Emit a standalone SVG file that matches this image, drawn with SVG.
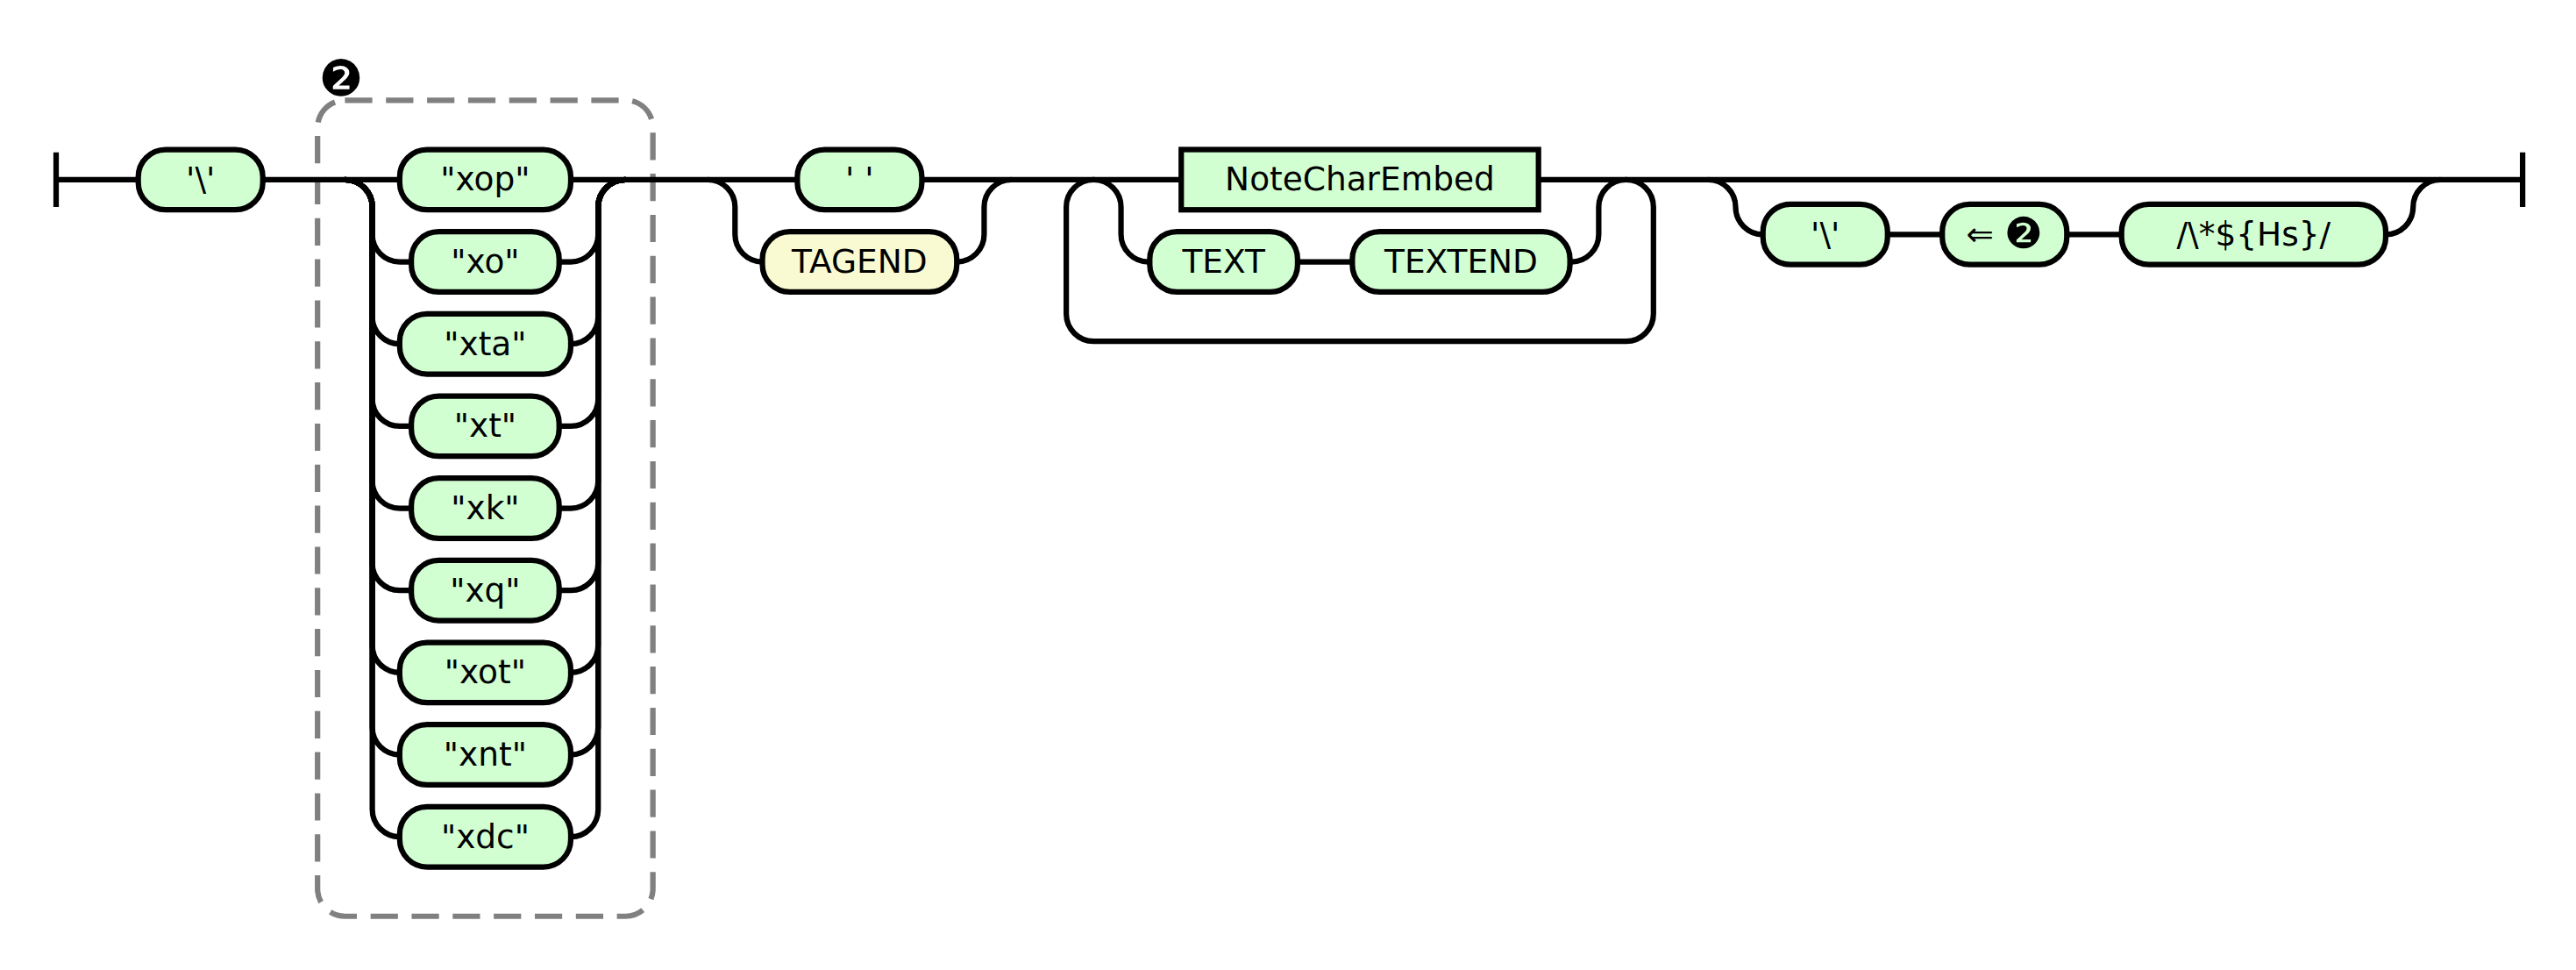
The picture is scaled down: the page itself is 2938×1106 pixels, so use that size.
<svg xmlns="http://www.w3.org/2000/svg" width="2938" height="1106" viewBox="0 0 2938 1106">
<style>
.c path{fill:none;stroke:#000;stroke-width:2}
.t rect{fill:#D2FFD2;stroke:#000;stroke-width:2}
.t.y rect{fill:#FAFAD2}
.t text,.n text{font-family:"DejaVu Sans","Liberation Sans",sans-serif;font-size:12px;text-anchor:middle;fill:#000;white-space:pre}
.n rect{fill:#D2FFD2;stroke:#000;stroke-width:2}
.gbox{fill:none;stroke:#808080;stroke-width:2;stroke-dasharray:10 5}
.lbl{font-family:"DejaVu Sans",sans-serif;font-size:18.2px;text-anchor:middle;fill:#000}
.big{font-size:15.8px}
</style>
<rect width="2938" height="1106" fill="#fff"/>
<g transform="translate(0 0.37) scale(3.12221) translate(0.5 0.5)">
<g id="group2">
<rect class="gbox" x="115.5" y="36" width="122.5" height="298" rx="10" ry="10"/>
<text class="lbl" x="124.1" y="34.4">❷</text>
</g>
<g class="c" id="connectors">
<path d="M20 55v20M20 65H50"/>
<path d="M95.5 65H145.5"/>
<path d="M208 65H290.75"/>
<path d="M336.25 65H431"/>
<path d="M561.5 65H921M921 55v20"/>
<path d="M125.5 65a10 10 0 0 1 10 10V85a10 10 0 0 0 10 10h4.25M203.75 95h4.25a10 10 0 0 0 10 -10V75a10 10 0 0 1 10 -10"/>
<path d="M125.5 65a10 10 0 0 1 10 10V115a10 10 0 0 0 10 10M208 125a10 10 0 0 0 10 -10V75a10 10 0 0 1 10 -10"/>
<path d="M125.5 65a10 10 0 0 1 10 10V145a10 10 0 0 0 10 10h4.25M203.75 155h4.25a10 10 0 0 0 10 -10V75a10 10 0 0 1 10 -10"/>
<path d="M125.5 65a10 10 0 0 1 10 10V175a10 10 0 0 0 10 10h4.25M203.75 185h4.25a10 10 0 0 0 10 -10V75a10 10 0 0 1 10 -10"/>
<path d="M125.5 65a10 10 0 0 1 10 10V205a10 10 0 0 0 10 10h4.25M203.75 215h4.25a10 10 0 0 0 10 -10V75a10 10 0 0 1 10 -10"/>
<path d="M125.5 65a10 10 0 0 1 10 10V235a10 10 0 0 0 10 10M208 245a10 10 0 0 0 10 -10V75a10 10 0 0 1 10 -10"/>
<path d="M125.5 65a10 10 0 0 1 10 10V265a10 10 0 0 0 10 10M208 275a10 10 0 0 0 10 -10V75a10 10 0 0 1 10 -10"/>
<path d="M125.5 65a10 10 0 0 1 10 10V295a10 10 0 0 0 10 10M208 305a10 10 0 0 0 10 -10V75a10 10 0 0 1 10 -10"/>
<path d="M258 65a10 10 0 0 1 10 10v10a10 10 0 0 0 10 10M349 95a10 10 0 0 0 10 -10v-10a10 10 0 0 1 10 -10"/>
<path d="M399 65a10 10 0 0 1 10 10v10a10 10 0 0 0 10 10h0.5M473.5 95h20M573 95h0.5a10 10 0 0 0 10 -10v-10a10 10 0 0 1 10 -10"/>
<path d="M399 65a10 10 0 0 0 -10 10v39a10 10 0 0 0 10 10H593.5a10 10 0 0 0 10 -10v-39a10 10 0 0 0 -10 -10"/>
<path d="M623.5 65a10 10 0 0 1 10 10a10 10 0 0 0 10 10M689 85h20M754.5 85h20M871 85a10 10 0 0 0 10 -10a10 10 0 0 1 10 -10"/>
</g>
<g class="t" id="t_bs1"><rect x="50" y="54" width="45.5" height="22" rx="10" ry="10"/><text x="72.75" y="69">'\'</text></g>
<g class="t" id="t_xop"><rect x="145.5" y="54" width="62.5" height="22" rx="10" ry="10"/><text x="176.75" y="69">"xop"</text></g>
<g class="t" id="t_xo"><rect x="149.75" y="84" width="54" height="22" rx="10" ry="10"/><text x="176.75" y="99">"xo"</text></g>
<g class="t" id="t_xta"><rect x="145.5" y="114" width="62.5" height="22" rx="10" ry="10"/><text x="176.75" y="129">"xta"</text></g>
<g class="t" id="t_xt"><rect x="149.75" y="144" width="54" height="22" rx="10" ry="10"/><text x="176.75" y="159">"xt"</text></g>
<g class="t" id="t_xk"><rect x="149.75" y="174" width="54" height="22" rx="10" ry="10"/><text x="176.75" y="189">"xk"</text></g>
<g class="t" id="t_xq"><rect x="149.75" y="204" width="54" height="22" rx="10" ry="10"/><text x="176.75" y="219">"xq"</text></g>
<g class="t" id="t_xot"><rect x="145.5" y="234" width="62.5" height="22" rx="10" ry="10"/><text x="176.75" y="249">"xot"</text></g>
<g class="t" id="t_xnt"><rect x="145.5" y="264" width="62.5" height="22" rx="10" ry="10"/><text x="176.75" y="279">"xnt"</text></g>
<g class="t" id="t_xdc"><rect x="145.5" y="294" width="62.5" height="22" rx="10" ry="10"/><text x="176.75" y="309">"xdc"</text></g>
<g class="t" id="t_space"><rect x="290.75" y="54" width="45.5" height="22" rx="10" ry="10"/><text x="313.5" y="69">' '</text></g>
<g class="t y" id="t_tagend"><rect x="278" y="84" width="71" height="22" rx="10" ry="10"/><text x="313.5" y="99">TAGEND</text></g>
<g class="n" id="nt_notecharembed"><rect x="431" y="54" width="130.5" height="22"/><text x="496.25" y="69">NoteCharEmbed</text></g>
<g class="t" id="t_text"><rect x="419.5" y="84" width="54" height="22" rx="10" ry="10"/><text x="446.5" y="99">TEXT</text></g>
<g class="t" id="t_textend"><rect x="493.5" y="84" width="79.5" height="22" rx="10" ry="10"/><text x="533.25" y="99">TEXTEND</text></g>
<g class="t" id="t_bs2"><rect x="643.5" y="74" width="45.5" height="22" rx="10" ry="10"/><text x="666.25" y="89">'\'</text></g>
<g class="t" id="t_backref"><rect x="709" y="74" width="45.5" height="22" rx="10" ry="10"/><text x="731.75" y="89">⇐ <tspan class="big" dy="0.9">❷</tspan></text></g>
<g class="t" id="t_regex"><rect x="774.5" y="74" width="96.5" height="22" rx="10" ry="10"/><text x="822.75" y="89">/\*${Hs}/</text></g>
</g>
</svg>
